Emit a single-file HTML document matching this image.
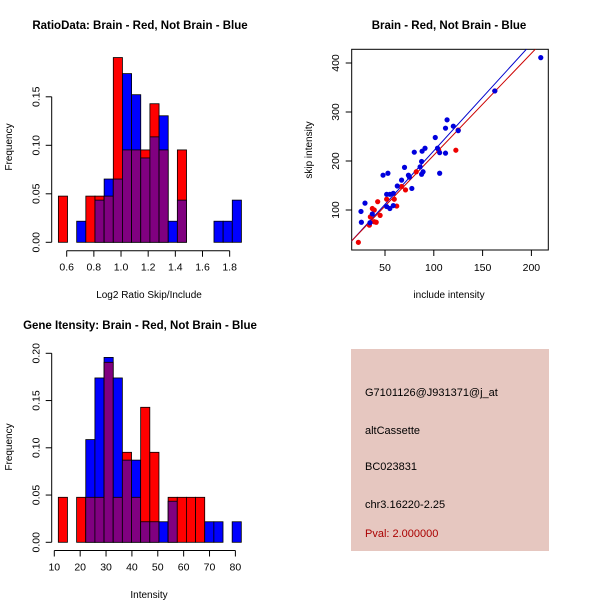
<!DOCTYPE html>
<html><head><meta charset="utf-8"><style>
body{margin:0;background:#fff}
svg{display:block;font-family:"Liberation Sans",Arial,sans-serif}
</style></head><body>
<svg id="c" width="600" height="600" xmlns="http://www.w3.org/2000/svg">
<rect width="600" height="600" fill="#fff"/>
<rect x="351" y="349" width="198" height="202" fill="#e6c7c0"/>
<text x="365" y="396" font-size="11" fill="#000">G7101126@J931371@j_at</text>
<text x="365" y="434" font-size="11" fill="#000">altCassette</text>
<text x="365" y="470" font-size="11" fill="#000">BC023831</text>
<text x="365" y="508" font-size="11" fill="#000">chr3.16220-2.25</text>
<text x="365" y="537" font-size="11" fill="#aa0000">Pval: 2.000000</text>
</svg>
<script>
// ---- data ----
const ratioRed = [1,0,0,1,1,1,4,2,2,2,3,2,0,2,0,0,0,0,0,0];
const ratioBlue = [0,0,1,0,2,3,3,8,7,4,5,6,1,2,0,0,0,1,1,2];
const ratioStart = 0.5387, ratioWidth = 0.0674;
const ratioXTicks = [0.6,0.8,1.0,1.2,1.4,1.6,1.8];
const ratioYTicks = [0,0.05,0.10,0.15];
const intRed = [1,0,1,1,1,4,1,2,1,3,2,0,1,1,1,1,0,0,0,0];
const intBlue = [0,0,0,5,8,9,8,4,4,1,1,1,2,0,0,0,1,1,0,1];
const intStart = 11.55, intWidth = 3.537;
const intXTicks = [10,20,30,40,50,60,70,80];
const intYTicks = [0,0.05,0.10,0.15,0.20];
const redN = 21, blueN = 46;
const redX = [22.7,34,35,37,39,41,42.5,45,51.7,59.5,62,67,71,82,105,122.6,125,162.5,39];
const redY = [34,69,86,103,100,75,117,89,122,122,108,148,141,178,222,222,263,343,76];
const blueX = [25.4,25.8,29.5,34.6,37,48,53,51.7,55,58.5,55,51.7,58.5,62.6,67,70,74,75,77.5,80,86,87.5,88,89,87.5,91,101.5,103.8,106,106,112,112,113.6,120,125,162.5,209.6];
const blueY = [97,75,114,74,92,171,175,132,132,134,103,107,109,149,161,187,171,167,144,218,188,199,220,178,173,226,248,226,175,217,216,267,284,271,262,343,411];
const scXTicks = [50,100,150,200];
const scYTicks = [100,200,300,400];
const blueFit = [2.3, 2.185];
const redFit = [4, 2.079];

const svg = document.getElementById('c');
const NS = 'http://www.w3.org/2000/svg';
function mk(tag, attrs, parent){const e=document.createElementNS(NS,tag);for(const k in attrs)e.setAttribute(k,attrs[k]);(parent||svg).appendChild(e);return e;}
function txt(x,y,s,size,opts){const e=mk('text',Object.assign({x:x,y:y,'font-size':size,'text-anchor':'middle',fill:'#000'},opts||{}));e.textContent=s;return e;}

function hist(cfg){
  const g=mk('g',{});
  
  
  const sx=v=>cfg.x0+(v-cfg.xv0)*cfg.xs, sy=v=>cfg.y0-v*cfg.ys;
  for(let i=0;i<cfg.red.length;i++){
    const r=cfg.red[i]/redN, b=cfg.blue[i]/blueN;
    const xa=sx(cfg.start+i*cfg.w), xb=sx(cfg.start+(i+1)*cfg.w);
    const draw=(v,col,nm)=>{ if(v<=0)return; const e=mk('rect',{x:xa,y:sy(v),width:xb-xa,height:sy(0)-sy(v),fill:col,stroke:'#000','stroke-width':0.8},g);
      
       };
    draw(Math.max(r,b), r>=b?'#ff0000':'#0000ff','bar-top');
    draw(Math.min(r,b), '#800080','bar-overlap');
  }
  const ax=mk('g',{stroke:'#000','stroke-width':1,fill:'none'},g);
  mk('line',{x1:sx(cfg.xt[0]),x2:sx(cfg.xt[cfg.xt.length-1]),y1:cfg.axY,y2:cfg.axY},ax);
  cfg.xt.forEach(t=>{mk('line',{x1:sx(t),x2:sx(t),y1:cfg.axY,y2:cfg.axY+6},ax);});
  cfg.xt.forEach(t=>{const e=txt(sx(t),cfg.axY+20,cfg.xfmt(t),10.5);});
  mk('line',{x1:cfg.axX,x2:cfg.axX,y1:sy(cfg.yt[0]),y2:sy(cfg.yt[cfg.yt.length-1])},ax);
  cfg.yt.forEach(t=>{mk('line',{x1:cfg.axX,x2:cfg.axX-6,y1:sy(t),y2:sy(t)},ax);
    const e=txt(0,0,t.toFixed(2),10.5,{transform:`translate(${cfg.axX-12},${sy(t)}) rotate(-90)`});
    });
}

hist({name:'ratio-histogram',red:ratioRed,blue:ratioBlue,start:ratioStart,w:ratioWidth,x0:66.7,xv0:0.6,xs:135.8,y0:242.3,ys:970,
  xt:ratioXTicks,yt:ratioYTicks,axY:250.7,axX:51.7,xfmt:t=>t.toFixed(1)});
hist({name:'intensity-histogram',red:intRed,blue:intBlue,start:intStart,w:intWidth,x0:54.3,xv0:10,xs:2.587,y0:542.3,ys:945,
  xt:intXTicks,yt:intYTicks,axY:550.5,axX:51.7,xfmt:t=>String(t)});

[[140,29,'RatioData: Brain - Red, Not Brain - Blue','ratio-title'],[449,29,'Brain - Red, Not Brain - Blue','scatter-title'],[140,329,'Gene Itensity: Brain - Red, Not Brain - Blue','intensity-title']].forEach(a=>{
  const e=txt(a[0],a[1],a[2],11.5,{'font-weight':'bold'});});
[[149,298,'Log2 Ratio Skip/Include','ratio-x-title'],[449,298,'include intensity','scatter-x-title'],[149,598,'Intensity','intensity-x-title']].forEach(a=>{
  const e=txt(a[0],a[1],a[2],10);});
[[12,147,'Frequency','ratio-y-title'],[312,150,'skip intensity','scatter-y-title'],[12,447,'Frequency','intensity-y-title']].forEach(a=>{
  const e=txt(0,0,a[2],10,{transform:`translate(${a[0]},${a[1]}) rotate(-90)`});});

const sg=mk('g',{});


const px=v=>385+(v-50)*0.976, py=v=>210-(v-100)*0.49;
const clip=mk('clipPath',{id:'sc'},sg); mk('rect',{x:351.7,y:49.3,width:196.6,height:200.7},clip);
mk('rect',{x:351.7,y:49.3,width:196.6,height:200.7,fill:'none',stroke:'#000'},sg);
const lg=mk('g',{'clip-path':'url(#sc)'},sg);
[[blueFit,'#0000cc','fit-line-blue'],[redFit,'#cc0000','fit-line-red']].forEach(f=>{
  const e=mk('line',{x1:px(10),y1:py(f[0][0]+f[0][1]*10),x2:px(220),y2:py(f[0][0]+f[0][1]*220),stroke:f[1],'stroke-width':1},lg);
  });
redX.forEach((x,i)=>{const e=mk('circle',{cx:px(x),cy:py(redY[i]),r:2.6,fill:'#ee0000'},lg);});
blueX.forEach((x,i)=>{const e=mk('circle',{cx:px(x),cy:py(blueY[i]),r:2.6,fill:'#0000dd'},lg);});
const sa=mk('g',{stroke:'#000'},sg);
scXTicks.forEach(t=>{mk('line',{x1:px(t),x2:px(t),y1:250,y2:256},sa);const e=txt(px(t),271,String(t),10.5);});
scYTicks.forEach(t=>{mk('line',{x1:351.7,x2:345.7,y1:py(t),y2:py(t)},sa);const e=txt(0,0,String(t),10.5,{transform:`translate(339,${py(t)}) rotate(-90)`});});
</script>
</body></html>
